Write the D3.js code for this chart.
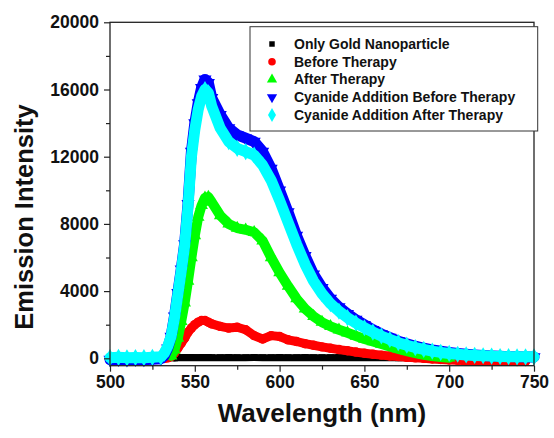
<!DOCTYPE html>
<html>
<head>
<meta charset="utf-8">
<script src="https://cdn.jsdelivr.net/npm/d3@7"></script>
<style>
  body { margin: 0; background: #fff; }
  text { font-family: "Liberation Sans", Arial, sans-serif; font-weight: bold; }
</style>
</head>
<body>
<div id="chart"></div>
<script>
// Data (wavelength in nm, intensity in counts)
var wavelengths = [500,505,510,515,520,525,530,532,534,536,538,540,542,544,546,548,550,552,554,556,558,560,
  565,570,575,580,585,590,595,600,605,610,615,620,625,630,635,640,645,650,655,660,665,670,675,680,685,690,695,700,
  705,710,715,720,725,730,735,740,745,750];

var goldOnly = [null,null,null,null,null,null,null,null,null,null,20,40,40,50,40,50,40,40,50,40,50,40,
  40,50,40,40,50,40,40,50,40,40,50,40,40,40,50,40,40,40,50,40,40,30,40,30,30,40,30,30,
  null,null,null,null,null,null,null,null,null,null];

var beforeTherapy = [20,-30,40,-20,30,-10,20,0,30,100,300,600,900,1200,1550,1800,2000,2150,2250,2250,2150,2050,
  1900,1800,1850,1700,1350,1150,1350,1300,1100,1000,870,780,680,600,520,450,370,300,240,190,140,100,60,30,0,-40,-70,-100,
  -120,-140,-160,-170,-180,-180,-180,-190,-190,null];

var afterTherapy = [null,null,null,null,null,null,null,null,null,150,500,1200,2200,3300,4600,6000,7300,8400,9100,9550,9600,9300,
  8500,8000,7750,7650,7500,7000,6000,5100,4300,3550,2950,2500,2150,1900,1700,1520,1330,1150,1000,850,700,560,430,310,210,130,70,30,
  null,null,null,null,null,null,null,null,null,null];

var cyanideBefore = [-80,-60,-90,-70,-80,-60,-20,150,600,1300,2500,3900,5300,6800,9200,12300,14000,15200,16100,16600,16400,15500,
  14500,13700,13300,13100,12900,12300,11300,10000,8700,7300,6100,5000,4200,3550,3050,2650,2300,2000,1700,1450,1230,1020,860,720,600,500,420,350,
  290,240,200,170,140,120,100,90,80,80];

var cyanideAfter = [40,60,30,50,40,60,90,300,700,1300,2400,3800,5200,6700,9000,12000,13600,14800,15600,16000,15800,15000,
  13700,12900,12500,12300,12100,11500,10600,9400,8100,6800,5600,4600,3850,3250,2800,2420,2100,1820,1560,1330,1120,930,780,640,530,430,350,290,
  240,200,170,150,130,110,100,90,90,90];

var seriesNames = ["Only Gold Nanoparticle", "Before Therapy", "After Therapy",
  "Cyanide Addition Before Therapy", "Cyanide Addition After Therapy"];

var xTicks = [500, 550, 600, 650, 700, 750];
var yTicks = [0, 4000, 8000, 12000, 16000, 20000];

// Var definitions for the svg
var svgWidth = 554;
var svgHeight = 438;

var plot = { left: 110, right: 534, top: 22.3, bottom: 365.7 };

var svg = d3.select("#chart")
  .append("svg")
  .attr("width", svgWidth)
  .attr("height", svgHeight);

var xScale = d3.scaleLinear()
  .domain([500, 750])
  .range([plot.left, plot.right]);

var yScale = d3.scaleLinear()
  .domain([-440, 20000])
  .range([plot.bottom, plot.top]);

// series styles: colour, symbol, marker size, band width
var series = [
  { values: goldOnly, color: "#000000", symbol: d3.symbolSquare, size: 30, mark: 45, band: 7 },
  { values: beforeTherapy, color: "#ff0000", symbol: d3.symbolCircle, size: 45, mark: 70, band: 9 },
  { values: afterTherapy, color: "#00ff00", symbol: d3.symbolTriangle, size: 45, mark: 70, band: 10 },
  { values: cyanideBefore, color: "#0000ff", symbol: d3.symbolTriangle, size: 45, mark: 75, band: 11, flip: true },
  { values: cyanideAfter, color: "#00ffff", symbol: d3.symbolDiamond, size: 55, mark: 85, band: 11 }
];

var line = d3.line()
  .defined(d => d.v !== null)
  .x(d => xScale(d.w))
  .y(d => yScale(d.v));

var marksGroup = svg.append("g");

series.forEach(function(s) {
  var pts = wavelengths.map((w, i) => ({ w: w, v: s.values[i] }));

  // thick band behind the markers
  marksGroup.append("path")
    .datum(pts)
    .attr("fill", "none")
    .attr("stroke", s.color)
    .attr("stroke-width", s.band)
    .attr("stroke-linejoin", "round")
    .attr("stroke-linecap", "round")
    .attr("d", line);

  marksGroup.selectAll(null)
    .data(pts.filter(d => d.v !== null))
    .enter()
    .append("path")
    .attr("d", d3.symbol().type(s.symbol).size(s.mark))
    .attr("transform", d => `translate(${xScale(d.w)},${yScale(d.v)})` + (s.flip ? " rotate(180)" : ""))
    .attr("fill", s.color);
});

// Axes
var bottomAxis = d3.axisBottom(xScale)
  .tickValues(xTicks)
  .tickSize(6)
  .tickPadding(4)
  .tickFormat(d3.format("d"));

var leftAxis = d3.axisLeft(yScale)
  .tickValues(yTicks)
  .tickSize(6)
  .tickPadding(5)
  .tickFormat(d3.format("d"));

var xAxis = svg.append("g")
  .attr("transform", `translate(0, ${plot.bottom})`)
  .call(bottomAxis);

var yAxis = svg.append("g")
  .attr("transform", `translate(${plot.left}, 0)`)
  .call(leftAxis);

// minor ticks
svg.append("g")
  .attr("transform", `translate(0, ${plot.bottom})`)
  .call(d3.axisBottom(xScale).tickValues([525, 575, 625, 675, 725]).tickSize(4).tickFormat(""));
svg.append("g")
  .attr("transform", `translate(${plot.left}, 0)`)
  .call(d3.axisLeft(yScale).tickValues([2000, 6000, 10000, 14000, 18000]).tickSize(4).tickFormat(""));

svg.selectAll(".domain").remove();
svg.selectAll(".tick line").attr("stroke", "#222").attr("stroke-width", 1.2);
xAxis.selectAll("text").style("font-size", "17.5px").attr("fill", "#111");
yAxis.selectAll("text").style("font-size", "17.5px").attr("fill", "#111");

// frame around the plot
svg.append("rect")
  .attr("x", plot.left)
  .attr("y", plot.top)
  .attr("width", plot.right - plot.left)
  .attr("height", plot.bottom - plot.top)
  .attr("fill", "none")
  .attr("stroke", "#222")
  .attr("stroke-width", 1.3);

// Legend
var legend = svg.append("g");
legend.append("rect")
  .attr("x", 250)
  .attr("y", 26.7)
  .attr("width", 287.7)
  .attr("height", 104.3)
  .attr("fill", "#fff")
  .attr("stroke", "#333")
  .attr("stroke-width", 1);

var legendRows = legend.selectAll(".row")
  .data(series)
  .enter()
  .append("g")
  .attr("transform", (d, i) => `translate(272, ${44 + i * 17.75})`);

legendRows.append("path")
  .attr("d", d => d3.symbol().type(d.symbol).size(d.size)())
  .attr("transform", d => d.flip ? "rotate(180)" : null)
  .attr("fill", d => d.color);

legendRows.append("text")
  .attr("x", 22)
  .attr("dy", "0.35em")
  .style("font-size", "14px")
  .attr("fill", "#111")
  .text((d, i) => seriesNames[i]);

// Names of axes
svg.append("text")
  .attr("transform", "rotate(-90)")
  .attr("x", -217)
  .attr("y", 33)
  .attr("text-anchor", "middle")
  .style("font-size", "25.5px")
  .attr("fill", "#111")
  .text("Emission Intensity");

svg.append("text")
  .attr("x", (plot.left + plot.right) / 2)
  .attr("y", 422)
  .attr("text-anchor", "middle")
  .style("font-size", "26px")
  .attr("fill", "#111")
  .text("Wavelength (nm)");
</script>
</body>
</html>
